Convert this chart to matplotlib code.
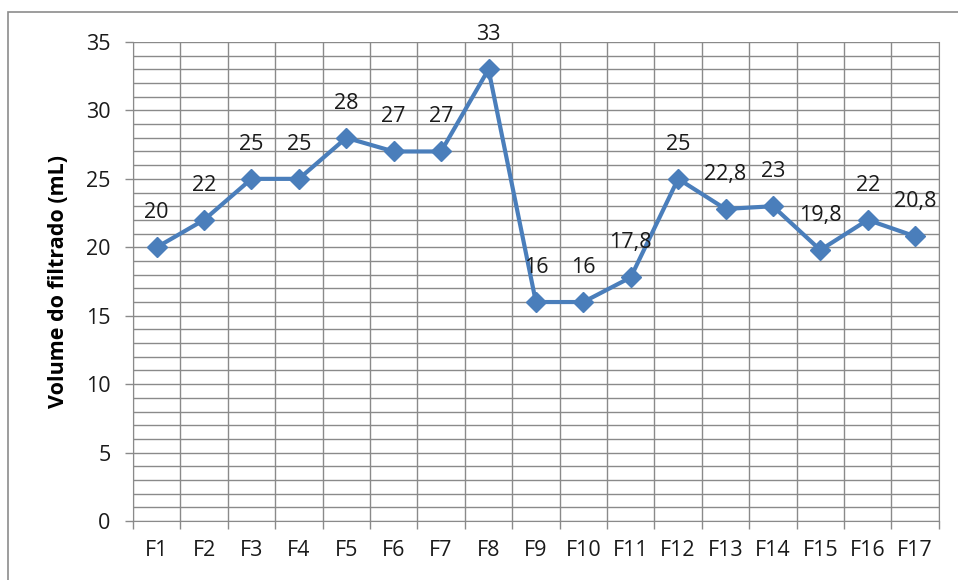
import matplotlib.pyplot as plt
from matplotlib.patches import Rectangle
from matplotlib.ticker import MultipleLocator

# Filtered volume per sample
samples = ["F1", "F2", "F3", "F4", "F5", "F6", "F7", "F8", "F9", "F10",
           "F11", "F12", "F13", "F14", "F15", "F16", "F17"]
volumes = [20, 22, 25, 25, 28, 27, 27, 33, 16, 16,
           17.8, 25, 22.8, 23, 19.8, 22, 20.8]

plt.rcParams['font.family'] = ['Open Sans', 'DejaVu Sans']

fig = plt.figure(figsize=(9.58, 5.8), dpi=100)
ax = fig.add_axes([0.1388, 0.1017, 0.980 - 0.1388, 0.9276 - 0.1017])

# outer chart border
fig.patches.append(Rectangle((8 / 958, -0.1), 1.2, 1 - 12 / 580 + 0.1,
                             transform=fig.transFigure, fill=False,
                             edgecolor='#8c8c8c', linewidth=1.2))

x = list(range(len(samples)))
ax.plot(x, volumes, color='#4a7ebb', linewidth=3, marker='D',
        markersize=10, zorder=3)

for xi, v in zip(x, volumes):
    label = f"{v:g}".replace('.', ',')
    ax.annotate(label, (xi, v), xytext=(0, 25), textcoords='offset points',
                ha='center', va='center', fontsize=15.5, color='#1a1a1a')

ax.set_xlim(-0.5, len(samples) - 0.5)
ax.set_ylim(0, 35)
ax.yaxis.set_major_locator(MultipleLocator(5))
ax.yaxis.set_minor_locator(MultipleLocator(1))
ax.set_xticks(x)
ax.set_xticklabels(samples)
ax.set_xticks([i - 0.5 for i in range(len(samples) + 1)], minor=True)

ax.grid(which='major', axis='y', color='#8a8a8a', linewidth=1.0)
ax.grid(which='minor', axis='y', color='#8a8a8a', linewidth=1.0)
ax.grid(which='minor', axis='x', color='#8a8a8a', linewidth=1.0)
ax.set_axisbelow(True)

ax.tick_params(axis='x', which='major', length=0, pad=14, labelsize=15.5,
               labelcolor='#1a1a1a')
ax.tick_params(axis='x', which='minor', length=6, color='#8a8a8a', width=1)
ax.tick_params(axis='y', which='major', length=6, color='#8a8a8a', width=1,
               labelsize=15.5, labelcolor='#1a1a1a', pad=10)
ax.tick_params(axis='y', which='minor', length=0)

for side in ['left', 'bottom', 'right', 'top']:
    ax.spines[side].set_color('#8a8a8a')
ax.spines['top'].set_visible(False)

ax.set_ylabel("Volume do filtrado (mL)", fontsize=15.5, fontweight='bold',
              labelpad=12)

fig.savefig("out.png", dpi=100)
